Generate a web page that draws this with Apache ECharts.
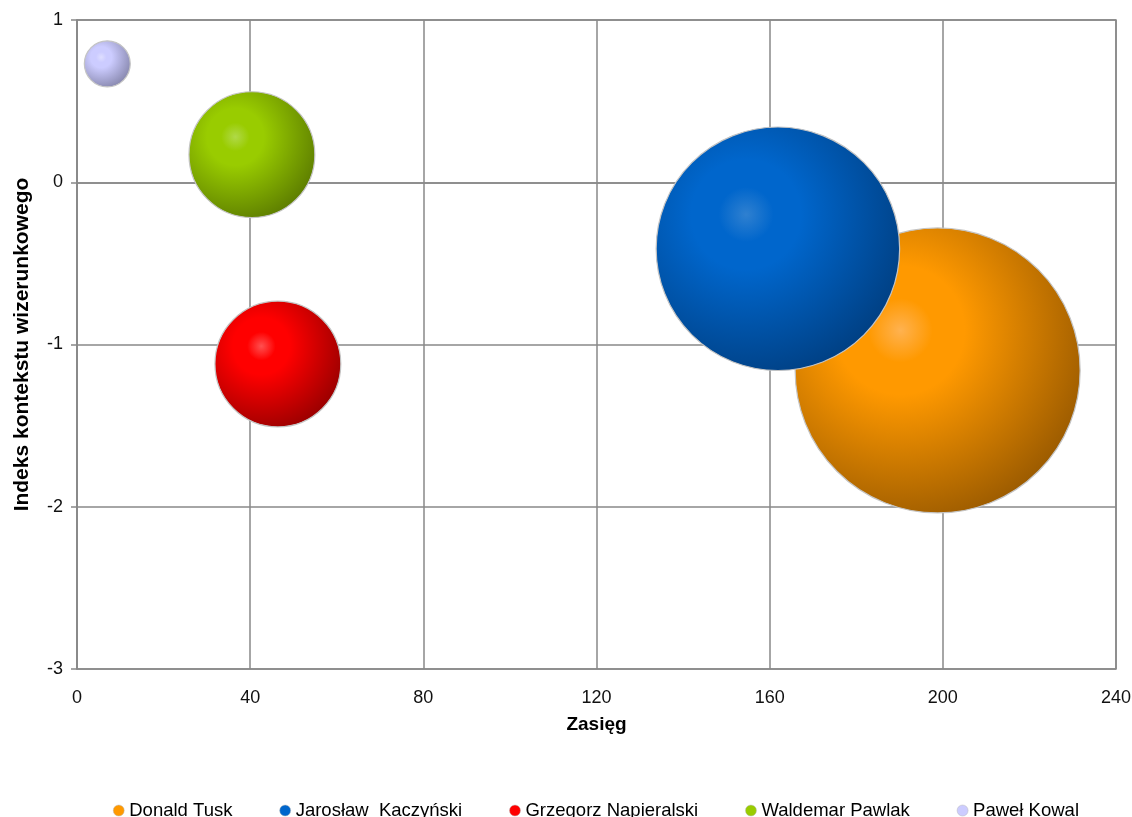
<!DOCTYPE html>
<html>
<head>
<meta charset="utf-8">
<script src="https://cdn.jsdelivr.net/npm/echarts@6/dist/echarts.min.js"></script>
<style>html,body{margin:0;padding:0;background:#fff}#c{width:1132px;height:817px}</style>
</head>
<body>
<div id="c"></div>
<script>
var names = ['Donald Tusk', 'Jarosław  Kaczyński', 'Grzegorz Napieralski', 'Waldemar Pawlak', 'Paweł Kowal'];
var reach = [198.8, 161.9, 46.4, 40.4, 7.0];
var index = [-1.16, -0.41, -1.12, 0.17, 0.73];
var bubbleSize = [100, 73, 19.5, 19.5, 2.6];
var xTicks = [0, 40, 80, 120, 160, 200, 240];
var yTicks = [-3, -2, -1, 0, 1];

var palette = [
  ['#ffb250', '#ff9900', '#9a5a00'],
  ['#2f80d0', '#0066cc', '#003f82'],
  ['#ff5050', '#ff0000', '#980000'],
  ['#b0d948', '#99cc00', '#5c7c00'],
  ['#dedeff', '#ccccff', '#8585ab']
];
var legendColors = ['#ff9900', '#0066cc', '#ff0000', '#99cc00', '#ccccff'];

function grad(p) {
  return {
    type: 'radial', x: 0.37, y: 0.36, r: 0.7,
    colorStops: [
      {offset: 0, color: p[0]},
      {offset: 0.16, color: p[1]},
      {offset: 0.32, color: p[1]},
      {offset: 1, color: p[2]}
    ]
  };
}
var maxDiam = 285;
var font = '"Liberation Sans", Arial, sans-serif';
var series = names.map(function (n, i) {
  return {
    name: n,
    type: 'scatter',
    z: 2 + i,
    data: [[reach[i], index[i], bubbleSize[i]]],
    symbolSize: function (v) { return maxDiam * Math.sqrt(v[2] / 100); },
    itemStyle: {color: grad(palette[i]), borderColor: '#c4c4c4', borderWidth: 1.2, opacity: 1},
    emphasis: {disabled: true}
  };
});

var chart = echarts.init(document.getElementById('c'), null, {renderer: 'canvas'});
chart.setOption({
  animation: false,
  backgroundColor: '#ffffff',
  textStyle: {fontFamily: font},
  grid: {left: 77, right: 16, top: 20, bottom: 148, outerBoundsMode: 'none', containLabel: false, show: true, borderColor: '#888', borderWidth: 1.5, backgroundColor: 'transparent'},
  xAxis: {
    type: 'value', min: xTicks[0], max: xTicks[xTicks.length - 1], interval: 40,
    name: 'Zasięg', nameLocation: 'middle', nameGap: 46,
    nameTextStyle: {fontFamily: font, fontWeight: 'bold', fontSize: 19, color: '#000'},
    axisLine: {show: true, lineStyle: {color: '#888', width: 1.5}},
    axisTick: {show: false},
    axisLabel: {fontFamily: font, fontSize: 18, color: '#111', margin: 20},
    splitLine: {show: true, lineStyle: {color: '#888', width: 1.5}}
  },
  yAxis: {
    type: 'value', min: yTicks[0], max: yTicks[yTicks.length - 1], interval: 1,
    name: 'Indeks kontekstu wizerunkowego', nameLocation: 'middle', nameGap: 44,
    nameTextStyle: {fontFamily: font, fontWeight: 'bold', fontSize: 21, color: '#000'},
    axisLine: {show: true, lineStyle: {color: '#888', width: 1.5}},
    axisTick: {show: true, inside: false, length: 6, lineStyle: {color: '#888', width: 1.5}},
    axisLabel: {fontFamily: font, fontSize: 18, color: '#111', margin: 14},
    splitLine: {show: true, lineStyle: {color: '#888', width: 1.5}}
  },
  legend: {
    left: 108, top: 796,
    icon: 'circle', itemWidth: 11, itemHeight: 11, itemGap: 47,
    textStyle: {fontFamily: font, fontSize: 18.5, color: '#000'},
    data: names.map(function (n, i) { return {name: n, itemStyle: {color: legendColors[i], borderColor: '#bbb', borderWidth: 0.5}}; })
  },
  series: series
});
</script>
</body>
</html>
